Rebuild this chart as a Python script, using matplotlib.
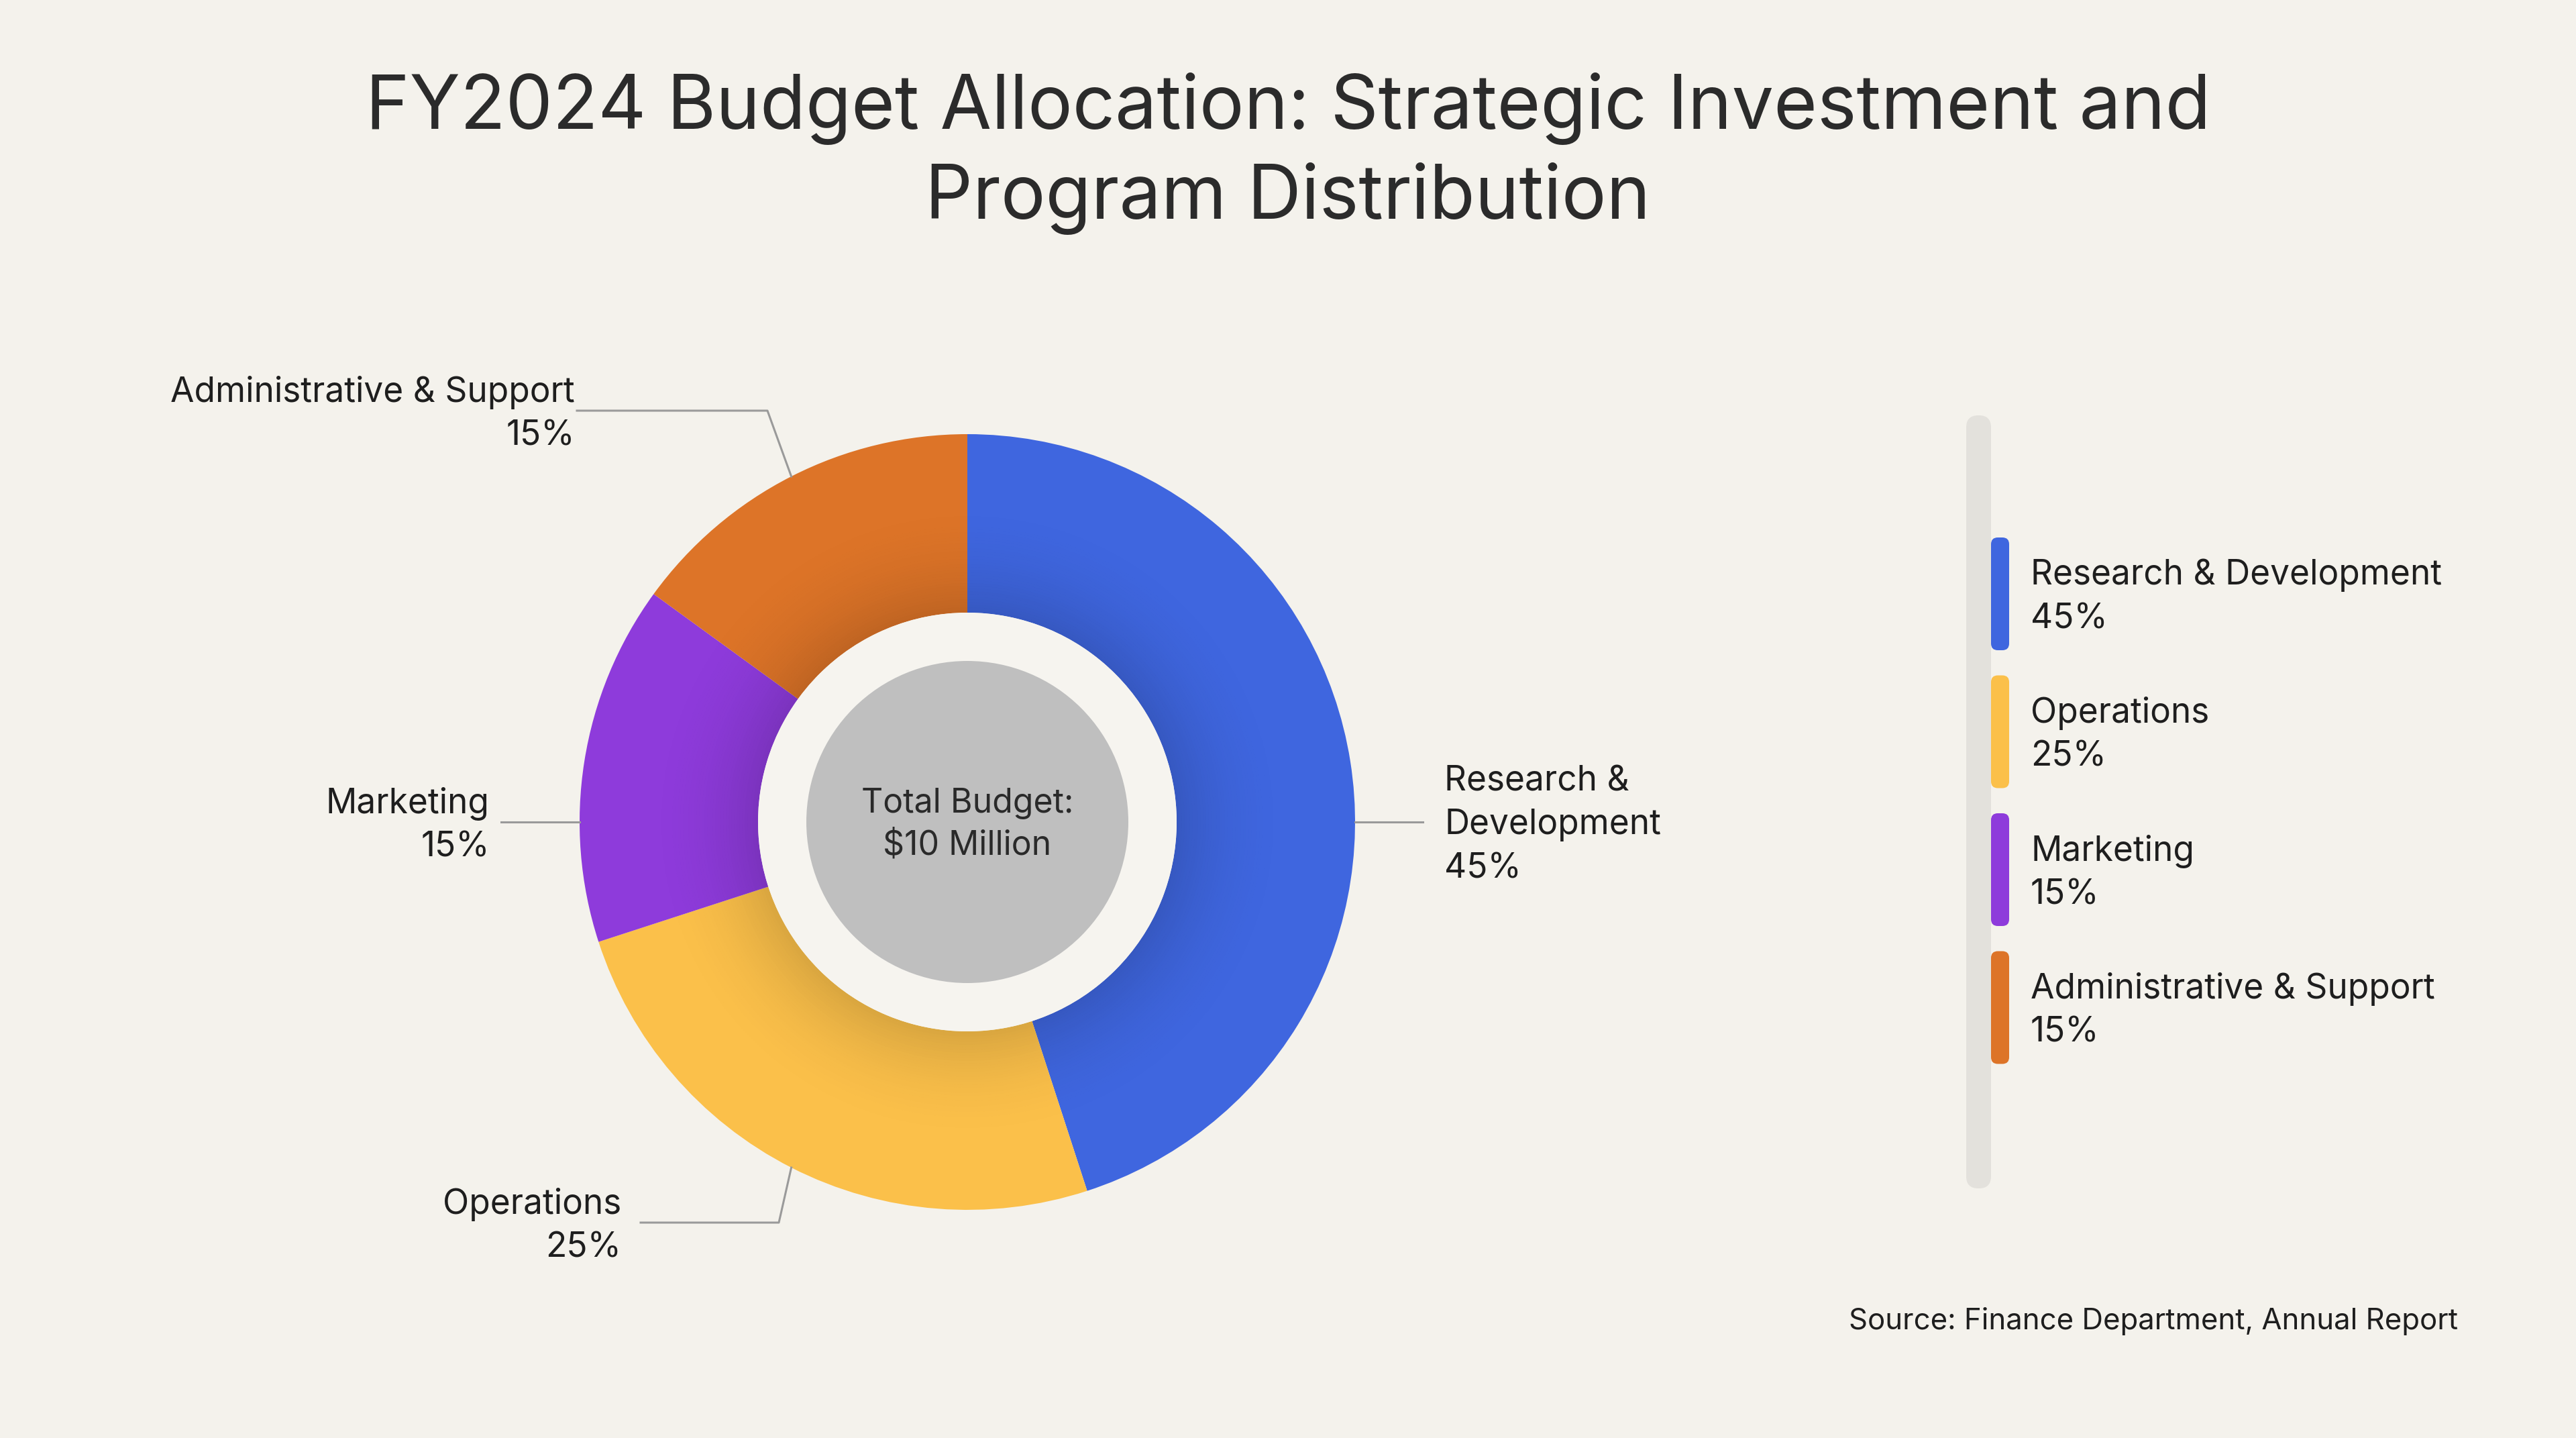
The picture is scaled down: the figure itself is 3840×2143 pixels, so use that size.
import matplotlib
matplotlib.use("Agg")
import matplotlib.pyplot as plt
from matplotlib.patches import Wedge, Circle, FancyBboxPatch
import numpy as np

# ---- data ----
categories = ["Research & Development", "Operations", "Marketing", "Administrative & Support"]
shares = [45, 25, 15, 15]
colors = ["#3F66DF", "#FBC04A", "#8E3BDB", "#DD7428"]
pct_labels = [f"{v}%" for v in shares]
title = "FY2024 Budget Allocation: Strategic Investment and\nProgram Distribution"
center_text = "Total Budget:\n$10 Million"
source = "Source: Finance Department, Annual Report"

# ---- layout ----
W, H = 3840, 2143
BG = "#F4F2EC"
TXT = "#1e1e1e"
FONT = ["Inter", "DejaVu Sans"]
plt.rcParams["font.family"] = FONT

fig = plt.figure(figsize=(W / 100, H / 100), dpi=100)
fig.patch.set_facecolor(BG)
ax = fig.add_axes([0, 0, 1, 1])
ax.set_facecolor(BG)


def Y(py):
    return H - py


cx, cy = 1442, Y(1225)
R_out, R_in, R_gray = 578, 312, 240

wedges, _ = ax.pie(shares, colors=colors, startangle=90, counterclock=False,
                   center=(cx, cy), radius=R_out, frame=True,
                   wedgeprops=dict(width=R_out - R_in, linewidth=0))

# subtle inner shading on the ring
n = 40
for k in range(n):
    r0 = R_in + k * 4
    a = 0.13 * (1 - k / n) ** 2
    ax.add_patch(Wedge((cx, cy), r0 + 4, 0, 360, width=4, facecolor="black",
                       alpha=a, linewidth=0, zorder=3))

ax.add_patch(Circle((cx, cy), R_in, facecolor="#F6F4EF", linewidth=0, zorder=4))
ax.add_patch(Circle((cx, cy), R_gray, facecolor="#BFBFBF", linewidth=0, zorder=5))
ax.text(cx, cy - 4, center_text, ha="center", va="center", fontsize=36, color="#2a2a2a",
        linespacing=1.4, zorder=6)


def edge_pt(w, angle=None):
    th = np.deg2rad((w.theta1 + w.theta2) / 2 if angle is None else angle)
    return cx + R_out * np.cos(th), cy + R_out * np.sin(th)


LINE = dict(color="#9A9A9A", lw=2.2, zorder=2)
FS = 37
LS = 1.41
DY = 5  # small downward nudge of label text relative to leader lines
# R&D (index 0): horizontal line to the right at angle 0
x0, y0 = edge_pt(wedges[0], 0)
ax.plot([x0, x0 + 101], [y0, y0], **LINE)
ax.text(2153, y0 - DY, "Research &\nDevelopment\n" + pct_labels[0], ha="left", va="center",
        fontsize=FS, color=TXT, linespacing=LS)
# Operations (index 1)
ax_, ay_ = edge_pt(wedges[1])
ex, ey = 1161, Y(1822)
ax.plot([ax_, ex, 955], [ay_, ey, ey], **LINE)
ax.text(926, ey - DY, categories[1] + "\n" + pct_labels[1], ha="right", va="center",
        fontsize=FS, color=TXT, linespacing=LS, multialignment="right")
# Marketing (index 2): horizontal at angle 180
x2, y2 = edge_pt(wedges[2], 180)
ax.plot([x2, 747], [y2, y2], **LINE)
ax.text(730, y2 - DY, categories[2] + "\n" + pct_labels[2], ha="right", va="center",
        fontsize=FS, color=TXT, linespacing=LS, multialignment="right")
# Admin (index 3)
ax3, ay3 = edge_pt(wedges[3])
ex, ey = 1144, Y(612)
ax.plot([ax3, ex, 860], [ay3, ey, ey], **LINE)
ax.text(857, ey - DY, categories[3] + "\n" + pct_labels[3], ha="right", va="center",
        fontsize=FS, color=TXT, linespacing=LS, multialignment="right")

# ---- legend ----
ax.add_patch(FancyBboxPatch((2931 + 18, Y(1771) + 18), 1, 1152 - 36,
                            boxstyle="round,pad=18", facecolor="#E3E1DC",
                            linewidth=0, zorder=2))
for i, (cat, col, p) in enumerate(zip(categories, colors, pct_labels)):
    top = 801 + i * 205.5
    ax.add_patch(FancyBboxPatch((2968 + 10, Y(top + 168) + 10), 27 - 20, 168 - 20,
                                boxstyle="round,pad=10", facecolor=col,
                                linewidth=0, zorder=3))
    ax.text(3027, Y(top + 84) - DY, cat + "\n" + p, ha="left", va="center",
            fontsize=FS, color=TXT, linespacing=LS)

# ---- titles ----
ax.text(W / 2, Y(229), title, ha="center", va="center", fontsize=80, color="#2b2b2b",
        linespacing=1.32)
ax.text(3664, Y(1969), source, ha="right", va="center", fontsize=31.5, color=TXT)

ax.set_xlim(0, W)
ax.set_ylim(0, H)
ax.set_aspect("equal")
ax.axis("off")
fig.savefig("out.png", dpi=100, facecolor=BG)
